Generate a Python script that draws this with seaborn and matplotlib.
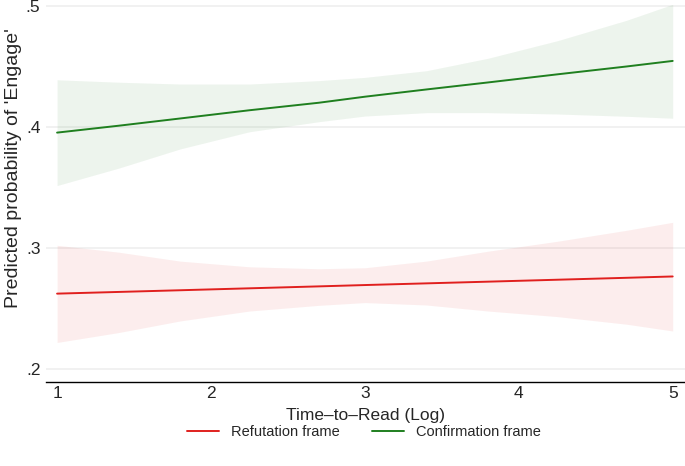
import numpy as np
import pandas as pd
import matplotlib
matplotlib.use("Agg")
import matplotlib.pyplot as plt
import seaborn as sns

# values
time_to_read = [1.0, 1.4, 1.8, 2.25, 2.7, 3.0, 3.4, 3.8, 4.25, 4.7, 5.0]

refut_pred = [0.2621, 0.2635, 0.2649, 0.2665, 0.2681, 0.2692, 0.2706, 0.2720, 0.2736, 0.2752, 0.2763]
refut_lo = [0.2217, 0.2299, 0.2395, 0.2477, 0.2524, 0.2547, 0.2527, 0.2477, 0.2431, 0.2368, 0.2312]
refut_hi = [0.3021, 0.2964, 0.2890, 0.2843, 0.2827, 0.2835, 0.2890, 0.2972, 0.3054, 0.3145, 0.3211]

confirm_pred = [0.3953, 0.4010, 0.4070, 0.4138, 0.4200, 0.4250, 0.4310, 0.4368, 0.4435, 0.4500, 0.4546]
confirm_lo = [0.3515, 0.3659, 0.3818, 0.3960, 0.4043, 0.4090, 0.4118, 0.4118, 0.4107, 0.4088, 0.4072]
confirm_hi = [0.4390, 0.4370, 0.4355, 0.4355, 0.4383, 0.4410, 0.4465, 0.4568, 0.4713, 0.4882, 0.5014]

frames = ["Refutation frame", "Confirmation frame"]
colors = {"Refutation frame": "#e0201e", "Confirmation frame": "#1f7f1f"}

n = len(time_to_read)
df = pd.DataFrame({
    "x": time_to_read * 2,
    "pred": refut_pred + confirm_pred,
    "lo": refut_lo + confirm_lo,
    "hi": refut_hi + confirm_hi,
    "frame": [frames[0]] * n + [frames[1]] * n,
})

sns.set_style("white")
plt.rcParams["font.family"] = ["Liberation Sans", "DejaVu Sans"]

fig = plt.figure(figsize=(6.85, 4.66), dpi=100)
ax = fig.add_axes([46 / 685, 1 - 382 / 466, 1 - 46 / 685, 382 / 466])

for f in frames:
    d = df[df["frame"] == f]
    ax.fill_between(d["x"], d["lo"], d["hi"], color=colors[f], alpha=0.08, linewidth=0)

sns.lineplot(data=df, x="x", y="pred", hue="frame", palette=colors, hue_order=frames,
             linewidth=1.4, ax=ax, legend=False)

ax.set_xlim(0.928, 5.08)
ax.set_ylim(0.189, 0.505)
ax.set_yticks([0.2, 0.3, 0.4, 0.5])
ax.set_yticklabels([".2", ".3", ".4", ".5"])
ax.set_xticks([1, 2, 3, 4, 5])
ax.grid(axis="y", color="#efefef", linewidth=1.2)
ax.grid(axis="x", visible=False)
ax.set_axisbelow(True)
for s in ["top", "right", "left"]:
    ax.spines[s].set_visible(False)
ax.spines["bottom"].set_color("black")
ax.spines["bottom"].set_linewidth(1.0)
ax.tick_params(axis="both", labelsize=12.5, length=0, pad=3)
ax.tick_params(axis="y", pad=4)
ax.set_xlabel("Time\u2013to\u2013Read (Log)", fontsize=12.5, labelpad=5)
ax.set_ylabel("Predicted probability of 'Engage'", fontsize=14)
ax.yaxis.set_label_coords(-0.037, 0.56)

handles = [plt.Line2D([], [], color=colors[f], linewidth=1.4) for f in frames]
fig.legend(handles, frames, loc="center", bbox_to_anchor=(364 / 685, 1 - 432 / 466),
           ncol=2, frameon=False, fontsize=10.5, handlelength=2.2, columnspacing=2.2)

fig.savefig("out.png", dpi=100)
